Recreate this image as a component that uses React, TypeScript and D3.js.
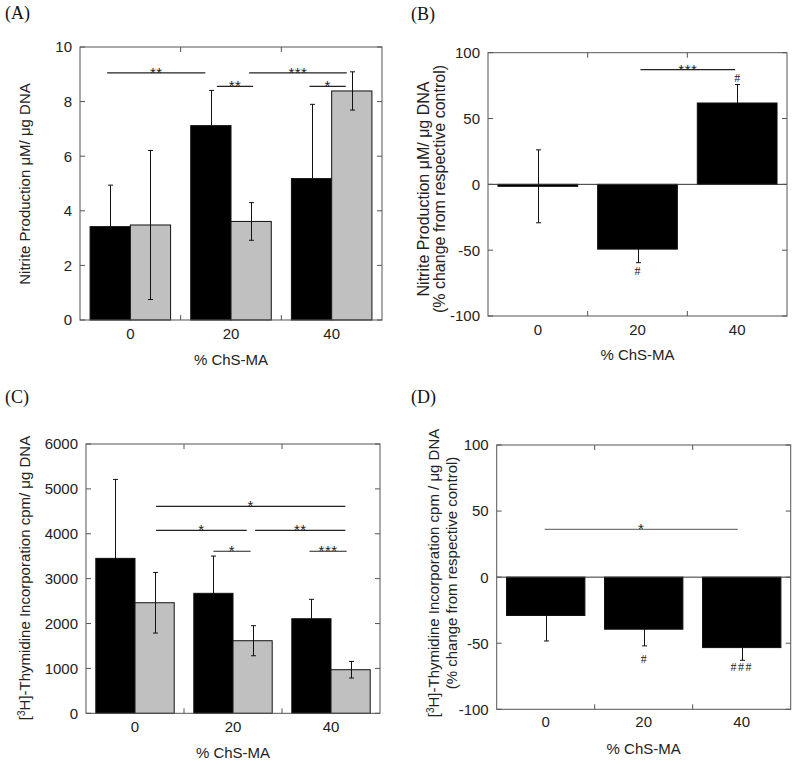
import React from "react";
import * as d3 from "d3";

// ---------- data ----------
const categories = ["0", "20", "40"];

// (A) Nitrite production, µM / µg DNA
const nitriteControl = [3.42, 7.12, 5.18];
const nitriteControlErr = [1.52, 1.29, 2.72];
const nitriteTreated = [3.48, 3.61, 8.39];
const nitriteTreatedErr = [2.73, 0.69, 0.7];
const nitriteTicks = [0, 2, 4, 6, 8, 10];

// (B) Nitrite, % change from respective control
const nitriteChange = [-1.5, -49.2, 61.8];
const nitriteChangeErr = [27.7, 10.3, 14.0];
const changeTicks = [-100, -50, 0, 50, 100];

// (C) [3H]-Thymidine incorporation, cpm / µg DNA
const thymControl = [3452, 2673, 2107];
const thymControlErr = [1759, 830, 432];
const thymTreated = [2463, 1617, 971];
const thymTreatedErr = [675, 335, 185];
const thymTicks = [0, 1000, 2000, 3000, 4000, 5000, 6000];

// (D) Thymidine, % change from respective control
const thymChange = [-29.0, -39.4, -53.3];
const thymChangeErr = [19.3, 12.6, 9.6];

// significance brackets: x in category units, y in data units
const bracketsA = [
  { x1: -0.23, x2: 0.745, y: 9.05, label: "**" },
  { x1: 0.86, x2: 1.22, y: 8.56, label: "**" },
  { x1: 1.18, x2: 2.15, y: 9.05, label: "***" },
  { x1: 1.78, x2: 2.14, y: 8.56, label: "*" },
];
const bracketsB = [{ x1: 1.03, x2: 1.98, y: 87.2, label: "***" }];
const bracketsC = [
  { x1: 0.215, x2: 2.146, y: 4612, label: "*" },
  { x1: 0.215, x2: 1.14, y: 4077, label: "*" },
  { x1: 1.226, x2: 2.146, y: 4077, label: "**" },
  { x1: 0.8, x2: 1.18, y: 3610, label: "*" },
  { x1: 1.78, x2: 2.16, y: 3610, label: "***" },
];
const bracketsD = [{ x1: -0.01, x2: 1.96, y: 36.1, label: "*" }];

// "#" markers vs. control
const hashB = [
  { i: 1, y: -65.9, label: "#" },
  { i: 2, y: 81, label: "#" },
];
const hashD = [
  { i: 1, y: -62.1, label: "#" },
  { i: 2, y: -67.7, label: "###" },
];

const SANS = "'Liberation Sans', Arial, Helvetica, sans-serif";
const SERIF = "'Liberation Serif', 'Times New Roman', serif";

type Series = { values: number[]; errs: number[]; fill: string; off: number; w: number; behind: boolean };
type Bracket = { x1: number; x2: number; y: number; label: string };
type Hash = { i: number; y: number; label: string };

type PanelCfg = {
  tag: string;
  tagX: number;
  tagY: number;
  left: number;
  right: number;
  top: number;
  bottom: number;
  yDomain: [number, number];
  yTicks: number[];
  series: Series[];
  brackets: Bracket[];
  bracketColor: string;
  hashes: Hash[];
  zeroLine: boolean;
  tickLabelY: number;
  xLabelY: number;
  yLabelLines: { x: number; content: React.ReactNode }[];
  yLabelCenter: number;
  yLabelSize: number;
};

function ErrorBars({ s, si, x, y }: { s: Series; si: number; x: any; y: any }) {
  return (
    <g>
      {s.values.map((v, i) => {
        const cx = Math.round(x(i + s.off + s.w / 2)) + 0.5;
        const yt = y(v + s.errs[i]);
        const yb = y(v - s.errs[i]);
        return (
          <g key={`e${si}-${i}`} stroke="#111" strokeWidth={1}>
            <line x1={cx} x2={cx} y1={yt} y2={yb} />
            <line x1={cx - 2.5} x2={cx + 2.5} y1={yt} y2={yt} />
            <line x1={cx - 2.5} x2={cx + 2.5} y1={yb} y2={yb} />
          </g>
        );
      })}
    </g>
  );
}

function Panel({ cfg }: { cfg: PanelCfg }) {
  const x = d3.scaleLinear().domain([-0.5, 2.5]).range([cfg.left, cfg.right]);
  const y = d3.scaleLinear().domain(cfg.yDomain).range([cfg.bottom, cfg.top]);
  const tl = 5;
  const boxStroke = "#555";
  const bounds = [0.5, 1.5];
  return (
    <g>
      <text x={cfg.tagX} y={cfg.tagY} fontFamily={SERIF} fontSize={18} fill="#111">
        {cfg.tag}
      </text>
      {/* error bars hidden behind black bars */}
      {cfg.series.map((s, si) => (s.behind ? <ErrorBars key={`eb${si}`} s={s} si={si} x={x} y={y} /> : null))}
      {/* bars */}
      {cfg.series.map((s, si) =>
        s.values.map((v, i) => {
          const x0 = x(i + s.off);
          const x1 = x(i + s.off + s.w);
          const ya = y(Math.max(0, v));
          const yb = y(Math.min(0, v));
          return (
            <rect
              key={`b${si}-${i}`}
              x={x0}
              y={ya}
              width={x1 - x0}
              height={Math.max(1.5, yb - ya)}
              fill={s.fill}
              stroke="#111"
              strokeWidth={1}
            />
          );
        })
      )}
      {cfg.zeroLine && (
        <line x1={cfg.left} x2={cfg.right} y1={y(0)} y2={y(0)} stroke="#333" strokeWidth={1} />
      )}
      {cfg.series.map((s, si) => (!s.behind ? <ErrorBars key={`ef${si}`} s={s} si={si} x={x} y={y} /> : null))}
      {/* frame */}
      <rect
        x={cfg.left}
        y={cfg.top}
        width={cfg.right - cfg.left}
        height={cfg.bottom - cfg.top}
        fill="none"
        stroke={boxStroke}
        strokeWidth={1}
      />
      {cfg.yTicks.map((t) => (
        <g key={`yt${t}`}>
          <line x1={cfg.left} x2={cfg.left + tl} y1={y(t)} y2={y(t)} stroke={boxStroke} />
          <line x1={cfg.right} x2={cfg.right - tl} y1={y(t)} y2={y(t)} stroke={boxStroke} />
          <text
            x={cfg.left - 8}
            y={y(t)}
            dy="0.36em"
            textAnchor="end"
            fontFamily={SANS}
            fontSize={15}
            fill="#222"
          >
            {t}
          </text>
        </g>
      ))}
      {bounds.map((b) => (
        <g key={`xb${b}`}>
          <line x1={x(b)} x2={x(b)} y1={cfg.bottom} y2={cfg.bottom - tl} stroke={boxStroke} />
          <line x1={x(b)} x2={x(b)} y1={cfg.top} y2={cfg.top + tl} stroke={boxStroke} />
        </g>
      ))}
      {categories.map((c, i) => (
        <text
          key={`xl${c}`}
          x={x(i)}
          y={cfg.tickLabelY}
          textAnchor="middle"
          fontFamily={SANS}
          fontSize={15}
          fill="#222"
        >
          {c}
        </text>
      ))}
      <text
        x={(cfg.left + cfg.right) / 2}
        y={cfg.xLabelY}
        textAnchor="middle"
        fontFamily={SANS}
        fontSize={15}
        fill="#222"
      >
        % ChS-MA
      </text>
      {cfg.yLabelLines.map((l, k) => (
        <text
          key={`yl${k}`}
          transform={`translate(${l.x},${cfg.yLabelCenter}) rotate(-90)`}
          textAnchor="middle"
          fontFamily={SANS}
          fontSize={cfg.yLabelSize}
          fill="#222"
        >
          {l.content}
        </text>
      ))}
      {/* significance brackets */}
      {cfg.brackets.map((b, k) => (
        <g key={`br${k}`}>
          <line x1={x(b.x1)} x2={x(b.x2)} y1={y(b.y)} y2={y(b.y)} stroke={cfg.bracketColor} strokeWidth={1.2} />
          <text
            x={(x(b.x1) + x(b.x2)) / 2}
            y={y(b.y) + 5}
            textAnchor="middle"
            fontFamily={SANS}
            fontSize={15}
            letterSpacing={0.5}
            fill="#222"
          >
            {b.label}
          </text>
        </g>
      ))}
      {cfg.hashes.map((h, k) => (
        <text
          key={`h${k}`}
          x={x(h.i)}
          y={y(h.y)}
          dy="0.35em"
          textAnchor="middle"
          fontFamily={SERIF}
          fontSize={12}
          letterSpacing={h.label.length > 1 ? 1.5 : 0}
          fill="#222"
        >
          {h.label}
        </text>
      ))}
    </g>
  );
}

const thymLabel = (sep: string) => (
  <>
    [<tspan fontSize={10} baselineShift="super">3</tspan>H]-Thymidine Incorporation cpm{sep}/ μg DNA
  </>
);

const BLACK = "#000";
const GRAY = "#c0c0c0";

const panels: PanelCfg[] = [
  {
    tag: "(A)",
    tagX: 5,
    tagY: 19,
    left: 80,
    right: 382,
    top: 47,
    bottom: 320,
    yDomain: [0, 10],
    yTicks: nitriteTicks,
    series: [
      { values: nitriteControl, errs: nitriteControlErr, fill: BLACK, off: -0.4, w: 0.4, behind: true },
      { values: nitriteTreated, errs: nitriteTreatedErr, fill: GRAY, off: 0, w: 0.4, behind: false },
    ],
    brackets: bracketsA,
    bracketColor: "#222",
    hashes: [],
    zeroLine: false,
    tickLabelY: 338.5,
    xLabelY: 365,
    yLabelLines: [{ x: 29.5, content: "Nitrite Production μM/ μg DNA" }],
    yLabelCenter: 184,
    yLabelSize: 15,
  },
  {
    tag: "(B)",
    tagX: 411,
    tagY: 20,
    left: 488,
    right: 787,
    top: 52.7,
    bottom: 316,
    yDomain: [-100, 100],
    yTicks: changeTicks,
    series: [{ values: nitriteChange, errs: nitriteChangeErr, fill: BLACK, off: -0.4, w: 0.8, behind: true }],
    brackets: bracketsB,
    bracketColor: "#222",
    hashes: hashB,
    zeroLine: true,
    tickLabelY: 335,
    xLabelY: 360,
    yLabelLines: [
      { x: 428.5, content: "Nitrite Production μM/ μg DNA" },
      { x: 445, content: "(% change from respective control)" },
    ],
    yLabelCenter: 189,
    yLabelSize: 16,
  },
  {
    tag: "(C)",
    tagX: 5,
    tagY: 403,
    left: 86,
    right: 380,
    top: 444,
    bottom: 713.3,
    yDomain: [0, 6000],
    yTicks: thymTicks,
    series: [
      { values: thymControl, errs: thymControlErr, fill: BLACK, off: -0.4, w: 0.4, behind: true },
      { values: thymTreated, errs: thymTreatedErr, fill: GRAY, off: 0, w: 0.4, behind: false },
    ],
    brackets: bracketsC,
    bracketColor: "#222",
    hashes: [],
    zeroLine: false,
    tickLabelY: 731.5,
    xLabelY: 758,
    yLabelLines: [{ x: 30, content: thymLabel("") }],
    yLabelCenter: 578,
    yLabelSize: 15,
  },
  {
    tag: "(D)",
    tagX: 411,
    tagY: 403,
    left: 496.7,
    right: 790.7,
    top: 445,
    bottom: 709.3,
    yDomain: [-100, 100],
    yTicks: changeTicks,
    series: [{ values: thymChange, errs: thymChangeErr, fill: BLACK, off: -0.4, w: 0.8, behind: true }],
    brackets: bracketsD,
    bracketColor: "#777",
    hashes: hashD,
    zeroLine: true,
    tickLabelY: 726.5,
    xLabelY: 753.5,
    yLabelLines: [
      { x: 438.5, content: thymLabel(" ") },
      { x: 456.5, content: "(% change from respective control)" },
    ],
    yLabelCenter: 573,
    yLabelSize: 15,
  },
];

export default function App() {
  return (
    <svg
      width={800}
      height={764}
      viewBox="0 0 800 764"
      style={{ position: "absolute", left: 0, top: 0, background: "#fff" }}
    >
      <rect x={0} y={0} width={800} height={764} fill="#fff" />
      {panels.map((p) => (
        <Panel key={p.tag} cfg={p} />
      ))}
    </svg>
  );
}
